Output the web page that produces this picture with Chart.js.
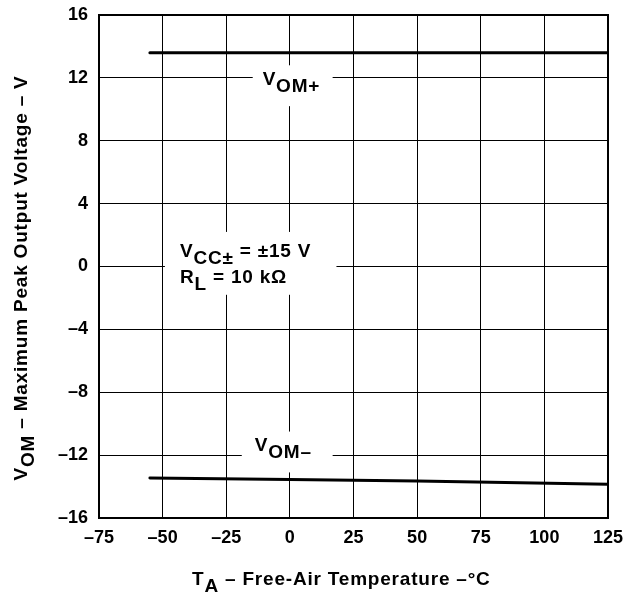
<!DOCTYPE html>
<html>
<head>
<meta charset="utf-8">
<script src="https://cdn.jsdelivr.net/npm/chart.js@4.4.0/dist/chart.umd.min.js"></script>
<style>
  html, body { margin: 0; padding: 0; background: #fff; }
</style>
</head>
<body>
<canvas id="myChart" width="626" height="595"></canvas>
<script>
// ========================= data

const tempPlus = [-55, 0, 125];
const vomPlus = [13.6, 13.6, 13.6];

const tempMinus = [-55, 0, 50, 125];
const vomMinus = [-13.45, -13.55, -13.65, -13.85];

const xTicks = [-75, -50, -25, 0, 25, 50, 75, 100, 125];
const yTicks = [-16, -12, -8, -4, 0, 4, 8, 12, 16];

const FONT = "'Liberation Sans', Arial, sans-serif";

// ========================= helpers

function dash(v){
  return String(v).replace('-', '\u2013');
}

function toPoints(xs, ys){
  let pts = [];
  for (let i = 0; i < xs.length; i++) {
    pts.push({x: xs[i], y: ys[i]});
  }
  return pts;
}

// parts: [[text, isSub], ...]  drawn from x (left) on baseline y
function setFont(ctx, size){
  ctx.font = 'bold ' + size + 'px ' + FONT;
  ctx.letterSpacing = '0.8px';
}

function richWidth(ctx, parts, size){
  setFont(ctx, size);
  let w = 0;
  parts.forEach(p => { w += ctx.measureText(p[0]).width; });
  return w;
}

function drawRich(ctx, parts, x, y, size){
  setFont(ctx, size);
  ctx.fillStyle = '#000';
  ctx.textAlign = 'left';
  ctx.textBaseline = 'alphabetic';
  let cx = x;
  parts.forEach(p => {
    ctx.fillText(p[0], cx, y + (p[1] ? 7 : 0));
    cx += ctx.measureText(p[0]).width;
  });
}

// white box (data coords) that hides the grid behind a label
function clearBox(chart, x0, x1, y0, y1){
  const xs = chart.scales.x, ys = chart.scales.y;
  const ctx = chart.ctx;
  const l = xs.getPixelForValue(x0), r = xs.getPixelForValue(x1);
  const t = ys.getPixelForValue(y0), b = ys.getPixelForValue(y1);
  ctx.fillStyle = '#fff';
  ctx.fillRect(l, t, r - l, b - t);
}

const labelsPlugin = {
  id: 'labelsPlugin',
  beforeDatasetsDraw(chart){
    const ctx = chart.ctx;
    const xs = chart.scales.x, ys = chart.scales.y;
    ctx.save();

    clearBox(chart, -14.6, 16.8, 12.8, 10.2);
    drawRich(ctx, [['V', false], ['OM+', true]],
      xs.getPixelForValue(-10.7), ys.getPixelForValue(11.55), 19);

    clearBox(chart, -18.9, 16.8, -10.5, -13.1);
    drawRich(ctx, [['V', false], ['OM\u2013', true]],
      xs.getPixelForValue(-13.8), ys.getPixelForValue(-11.75), 19);

    clearBox(chart, -49.1, 18.3, 2.2, -1.8);
    drawRich(ctx, [['V', false], ['CC\u00b1', true], [' = \u00b115 V', false]],
      xs.getPixelForValue(-43.2), ys.getPixelForValue(0.6), 19);
    drawRich(ctx, [['R', false], ['L', true], [' = 10 k\u03a9', false]],
      xs.getPixelForValue(-43.2), ys.getPixelForValue(-1.05), 19);

    ctx.restore();
  },
  afterDraw(chart){
    const ctx = chart.ctx;
    const a = chart.chartArea;
    ctx.save();

    // heavy frame
    ctx.strokeStyle = '#000';
    ctx.lineWidth = 2;
    ctx.strokeRect(a.left, a.top, a.right - a.left, a.bottom - a.top);

    // x title
    let xt = [['T', false], ['A', true], [' \u2013 Free-Air Temperature \u2013\u00b0C', false]];
    drawRich(ctx, xt, 192, 585, 19);

    // y title, rotated
    let yt = [['V', false], ['OM', true], [' \u2013 Maximum Peak Output Voltage \u2013 V', false]];
    let w = richWidth(ctx, yt, 19);
    ctx.translate(27, 278);
    ctx.rotate(-Math.PI / 2);
    drawRich(ctx, yt, -w / 2, 0, 19);

    ctx.restore();
  }
};

// ========================= chart

const dataVom = {
  datasets: [{
    label: 'VOM+',
    data: toPoints(tempPlus, vomPlus),
    borderColor: '#000',
    borderWidth: 3,
    borderCapStyle: 'round',
    pointRadius: 0,
    fill: false,
    tension: 0
  }, {
    label: 'VOM-',
    data: toPoints(tempMinus, vomMinus),
    borderColor: '#000',
    borderWidth: 3,
    borderCapStyle: 'round',
    pointRadius: 0,
    fill: false,
    tension: 0
  }]
};

const configVom = {
  type: 'line',
  data: dataVom,
  options: {
    responsive: false,
    animation: false,
    layout: {
      padding: {left: 0, right: 18, top: 15, bottom: 0}
    },
    plugins: {
      legend: { display: false },
      tooltip: { enabled: false }
    },
    scales: {
      x: {
        type: 'linear',
        min: xTicks[0],
        max: xTicks[xTicks.length - 1],
        afterBuildTicks: s => { s.ticks = xTicks.map(v => ({value: v})); },
        afterFit: s => { s.height = 77; s.paddingLeft = 0; s.paddingRight = 0; },
        grid: { color: '#000', lineWidth: 1, drawTicks: false },
        border: { color: '#000', width: 2 },
        ticks: {
          color: '#000',
          padding: 9,
          maxRotation: 0,
          font: { family: FONT, size: 18, weight: 'bold' },
          callback: v => dash(v)
        }
      },
      y: {
        type: 'linear',
        min: yTicks[0],
        max: yTicks[yTicks.length - 1],
        afterBuildTicks: s => { s.ticks = yTicks.map(v => ({value: v})); },
        afterFit: s => { s.width = 99; s.paddingTop = 0; s.paddingBottom = 0; },
        grid: { color: '#000', lineWidth: 1, drawTicks: false },
        border: { color: '#000', width: 2 },
        ticks: {
          color: '#000',
          padding: 11,
          font: { family: FONT, size: 18, weight: 'bold' },
          callback: v => dash(v)
        }
      }
    }
  },
  plugins: [labelsPlugin]
};

const myChart = new Chart(document.getElementById('myChart'), configVom);
</script>
</body>
</html>
